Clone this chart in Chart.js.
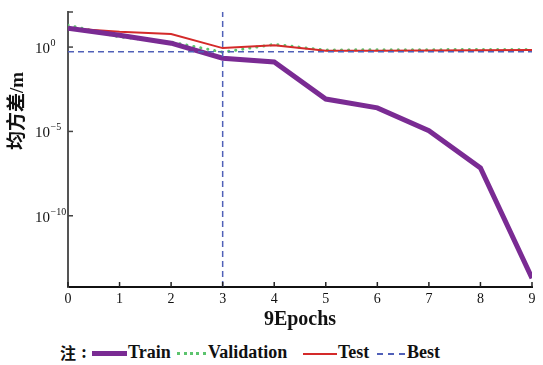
<!DOCTYPE html>
<html>
<head>
<meta charset="utf-8">
<script src="https://cdn.jsdelivr.net/npm/chart.js@4"></script>
<style>
  body { margin: 0; background: #fff; width: 543px; height: 365px; overflow: hidden; }
  #wrap { position: relative; width: 543px; height: 335px; }
  #leyenda { position: absolute; left: 0; top: 340px; width: 543px; height: 24px; font-family: "Liberation Serif", serif; font-size: 18px; font-weight: bold; color: #111; white-space: nowrap; }
  #leyenda span { position: absolute; top: 0; line-height: 24px; }
  #leyenda .zhu { font-family: "Noto Sans CJK SC", serif; font-size: 16px; }
  #leyenda .ln { height: 0; }
</style>
</head>
<body>
<div id="wrap"><canvas id="grafica" width="543" height="335"></canvas></div>
<div id="leyenda">
  <span class="zhu" style="left:60px;">注</span>
  <span style="left:81px;">:</span>
  <span class="ln" style="left:92px; width:35px; top:11px; border-top: 5px solid #7a2b93;"></span>
  <span style="left:128px;">Train</span>
  <span class="ln" style="left:177px; width:29px; top:12px; border-top: 3px dotted #5cc46e;"></span>
  <span style="left:208px;">Validation</span>
  <span class="ln" style="left:303px; width:34px; top:13px; border-top: 2px solid #d42a2a;"></span>
  <span style="left:338px;">Test</span>
  <span class="ln" style="left:377px; width:28px; top:13px; border-top: 2px dashed #5060b8;"></span>
  <span style="left:407px;">Best</span>
</div>
<script>
// datos
const epocas = [0, 1, 2, 3, 4, 5, 6, 7, 8, 9];
const train = [13.2, 5.0, 1.7, 0.22, 0.13, 8.3e-4, 2.5e-4, 1.1e-5, 6.9e-8, 2e-14];
const validation = [20, 4.0, 2.0, 0.5, 1.45, 0.66, 0.7, 0.7, 0.72, 0.72];
const test = [13, 8, 5.9, 0.87, 1.3, 0.6, 0.6, 0.62, 0.65, 0.68];
const mejorValor = 0.52;
const mejorEpoca = 3;
const ticksY = [1e-10, 1e-5, 1];
const exponentesY = ['−10', '−5', '0'];
const yMin = 6e-15, yMax = 120;

const serif = '"Liberation Serif", serif';
const puntos = arr => arr.map((v, i) => ({ x: epocas[i], y: v }));

// ticks hacia dentro, etiquetas 10^n del eje y y título vertical
const extras = {
  id: 'extras',
  afterDraw(chart) {
    const { ctx, chartArea, scales } = chart;
    ctx.save();
    ctx.lineWidth = 1.5;
    ctx.strokeStyle = '#222';
    scales.x.ticks.forEach(t => {
      const px = scales.x.getPixelForValue(t.value);
      ctx.beginPath(); ctx.moveTo(px, chartArea.bottom); ctx.lineTo(px, chartArea.bottom - 5); ctx.stroke();
    });
    ctx.strokeStyle = '#444';
    ctx.fillStyle = '#111';
    ctx.textBaseline = 'alphabetic';
    ticksY.forEach((v, i) => {
      const py = scales.y.getPixelForValue(v);
      ctx.beginPath(); ctx.moveTo(chartArea.left, py); ctx.lineTo(chartArea.left + 5, py); ctx.stroke();
      ctx.font = '15px ' + serif;
      ctx.textAlign = 'left';
      ctx.fillText('10', 35, py + 6);
      const w = ctx.measureText('10').width;
      ctx.font = '10px ' + serif;
      ctx.fillText(exponentesY[i], 35 + w + 0.5, py - 1);
    });
    ctx.beginPath(); ctx.moveTo(chartArea.left, chartArea.top); ctx.lineTo(chartArea.left + 5, chartArea.top); ctx.stroke();

    ctx.translate(18, 111);
    ctx.rotate(-Math.PI / 2);
    ctx.font = 'bold 19px "Liberation Serif", "Noto Sans CJK SC", serif';
    ctx.textAlign = 'center';
    ctx.textBaseline = 'middle';
    ctx.fillText('均方差/m', 0, 0);
    ctx.restore();
  }
};

new Chart(document.getElementById('grafica'), {
  type: 'line',
  data: {
    datasets: [
      { label: 'Best', data: epocas.map(e => ({ x: e, y: mejorValor })), borderColor: '#5060b8', borderWidth: 1.5, borderDash: [6, 4], pointRadius: 0 },
      { label: 'BestV', data: [{ x: mejorEpoca, y: yMin }, { x: mejorEpoca, y: yMax }], borderColor: '#5060b8', borderWidth: 1.5, borderDash: [6, 4], pointRadius: 0 },
      { label: 'Train', data: puntos(train), borderColor: '#7a2b93', borderWidth: 5, pointRadius: 0 },
      { label: 'Test', data: puntos(test), borderColor: '#d42a2a', borderWidth: 2, pointRadius: 0 },
      { label: 'Validation', data: puntos(validation), borderColor: '#5cc46e', borderWidth: 3, borderDash: [0.1, 7], borderCapStyle: 'round', pointRadius: 0 }
    ]
  },
  options: {
    responsive: false,
    animation: false,
    layout: { padding: { top: 12, right: 11, left: 35, bottom: 0 } },
    plugins: { legend: { display: false }, tooltip: { enabled: false } },
    scales: {
      x: {
        type: 'linear', min: 0, max: 9,
        afterFit: s => { s.height = 48; },
        ticks: { stepSize: 1, color: '#111', padding: 4, font: { family: serif, size: 14 } },
        grid: { display: false, drawTicks: false },
        border: { display: true, color: '#111', width: 2 },
        title: { display: true, text: '9Epochs', color: '#111', padding: { top: 0, bottom: 3 }, font: { family: serif, size: 20, weight: 'bold' } }
      },
      y: {
        type: 'logarithmic', min: yMin, max: yMax,
        afterFit: s => { s.width = 33; s.paddingTop = 0; s.paddingBottom = 0; },
        afterBuildTicks: s => { s.ticks = ticksY.map(v => ({ value: v })); },
        ticks: { display: false },
        grid: { display: false, drawTicks: false },
        border: { display: true, color: '#555', width: 2 },
        title: { display: false }
      }
    }
  },
  plugins: [extras]
});
</script>
</body>
</html>
